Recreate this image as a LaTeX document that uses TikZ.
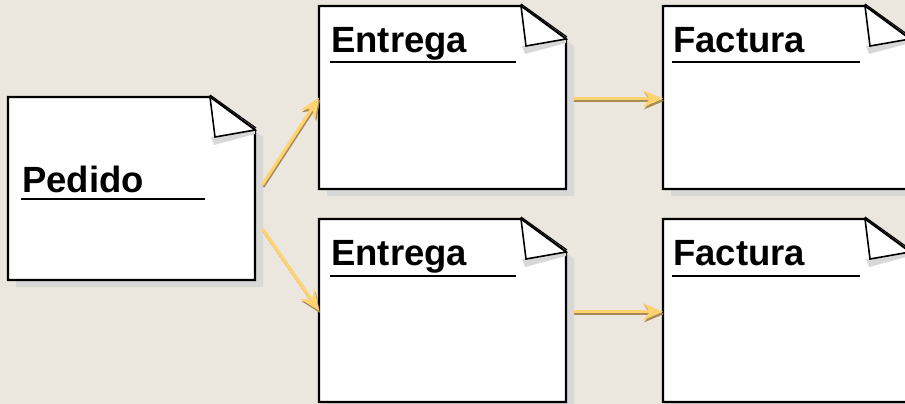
\documentclass[tikz,border=0pt]{standalone}
\usepackage{fontspec}
\setmainfont{Liberation Sans}
\usetikzlibrary{arrows.meta,calc}
\definecolor{bgc}{HTML}{EBE7DE}
\definecolor{shadowgray}{HTML}{D8D8D8}
\definecolor{arrowyellow}{HTML}{FFD272}
\definecolor{arrowbrown}{HTML}{A88B52}
\tikzset{
  docframe/.style={fill=white, draw=black, line width=2.4pt, line join=miter},
  doctitle/.style={anchor=base west, inner sep=0pt, font=\fontsize{36.5}{40}\selectfont\bfseries},
  docarea/.style={rectangle, minimum width=247pt, minimum height=183pt, inner sep=0pt, anchor=north west},
  arrowshade/.style={draw=arrowbrown, line width=2.4pt, -{Stealth[length=20pt,width=17pt,inset=7pt]}, fill=arrowbrown},
  arrowmain/.style={draw=arrowyellow, line width=3.2pt, -{Stealth[length=20pt,width=17pt,inset=7pt]}, fill=arrowyellow},
}
% #1 name, #2 x, #3 y, #4 title, #5 text dx, #6 text baseline, #7 underline y
\newcommand{\mydocument}[7]{%
\begin{scope}[shift={(#2,#3)}]
  \fill[shadowgray] (8,7) -- (210,7) -- (255,40) -- (255,190) -- (8,190) -- cycle;
  \node[docarea] (#1) at (0,0) {};
  \path[docframe] (0,0) -- (202,0) -- (247,33) -- (247,183) -- (0,183) -- cycle;
  \fill[shadowgray] (203,40) -- (247,33) -- (247,37) -- (206,48) -- cycle;
  \filldraw[fill=white, draw=black, line width=1.6pt, line join=miter] (202,0) -- (207,40) -- (247,33) -- cycle;
  \draw[black, line width=1.2pt] (202,-2) -- (248,31);
  \node[doctitle] (#1t) at (#5,#6) {#4};
  \draw[black, line width=2.2pt] (#5-1,#7) -- (197,#7);
\end{scope}}
\newcommand{\flowarrow}[2]{%
  \draw[arrowshade, transform canvas={xshift=1pt, yshift=-2.2pt}] #1 -- #2;
  \draw[arrowmain] #1 -- #2;}
\begin{document}
\begin{tikzpicture}[x=1pt, y=-1pt]
\useasboundingbox (0,0) rectangle (905,404);
\clip (0,0) rectangle (905,404);
\fill[bgc] (0,0) rectangle (905,404);
\mydocument{ped}{8}{97}{Pedido}{14}{95}{102}
\mydocument{ent1}{319}{6}{Entrega}{12}{47}{56}
\mydocument{fac1}{663}{6}{Factura}{10}{47}{56}
\mydocument{ent2}{319}{219}{Entrega}{12}{46}{57}
\mydocument{fac2}{663}{219}{Factura}{10}{46}{57}
\flowarrow{($(ped.east)+(7,-4)$)}{(ent1.west)}
\flowarrow{($(ped.east)+(7,40)$)}{(ent2.west)}
\flowarrow{($(ent1.east)+(7,1)$)}{($(fac1.west)+(0,1)$)}
\flowarrow{($(ent2.east)+(7,1)$)}{($(fac2.west)+(0,1)$)}
\end{tikzpicture}
\end{document}
